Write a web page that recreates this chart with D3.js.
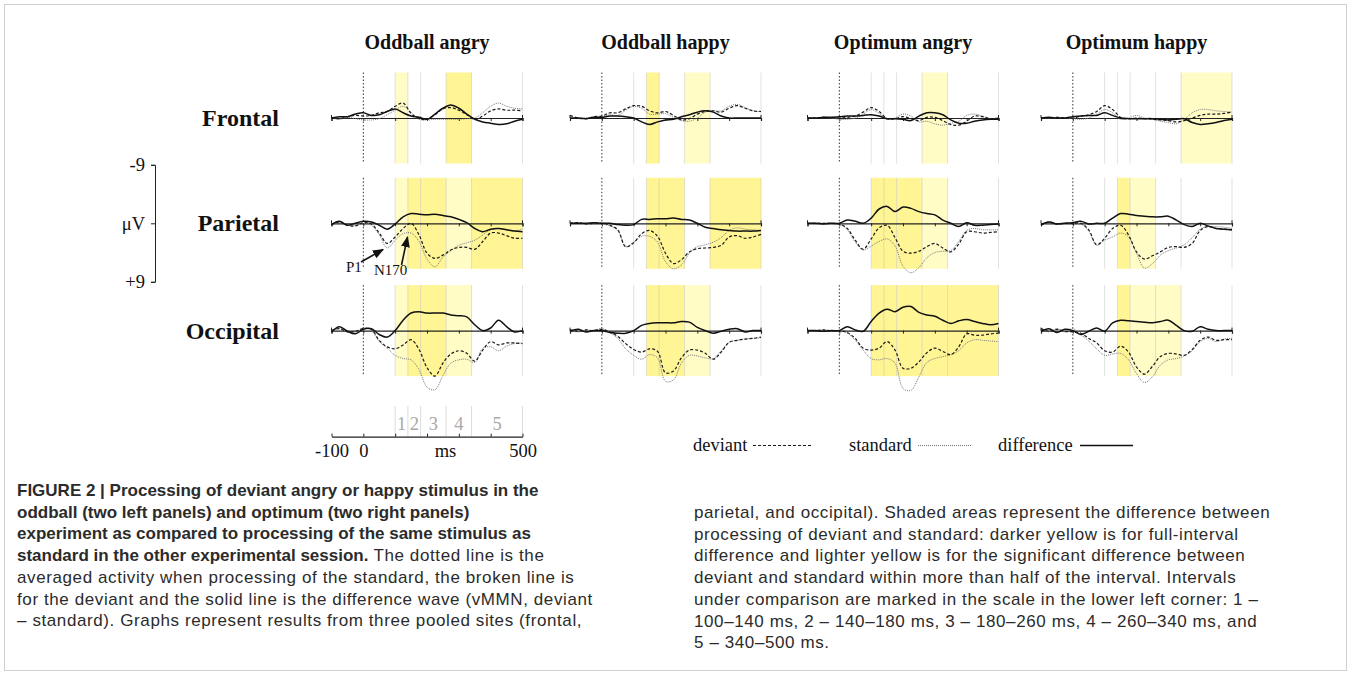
<!DOCTYPE html>
<html>
<head>
<meta charset="utf-8">
<script src="https://cdn.jsdelivr.net/npm/d3@7"></script>
<style>
  html, body { margin: 0; padding: 0; background: #ffffff; }
  svg { display: block; }
</style>
</head>
<body>
<svg id="fig" width="1351" height="675"></svg>
<script>
// ---------------------------------------------------------------
// Sample times (ms) shared by every waveform
const timeMs = [-100, -75, -50, -25, 0, 25, 50, 75, 100, 125, 150, 175, 200,
                225, 250, 275, 300, 325, 350, 375, 400, 425, 450, 475, 500];

// Panel titles and pooled-site rows
const panelTitles = ["Oddball angry", "Oddball happy", "Optimum angry", "Optimum happy"];
const siteLabels = ["Frontal", "Parietal", "Occipital"];

// Comparison intervals (ms) and their labels
const intervalEdges = [100, 140, 180, 260, 340, 500];
const intervalLabels = ["1", "2", "3", "4", "5"];

// Scale ticks
const timeTicks = [-100, 0, 100, 200, 300, 400, 500];
const timeTickLabels = [-100, 0, 500];
const voltTicks = [-9, 0, 9];
const voltTickLabels = ["-9", "\u03bcV", "+9"];

// Significance shading per interval: "d" full interval, "l" more than half, "" none
const oaShade = [["l", "", "", "d", ""], ["l", "d", "d", "l", "d"], ["l", "d", "d", "l", ""]];
const ohShade = [["", "d", "", "l", ""], ["", "d", "d", "", "d"], ["", "d", "d", "l", ""]];
const optAShade = [["", "", "", "l", ""], ["d", "d", "d", "l", ""], ["d", "d", "d", "d", "d"]];
const optHShade = [["", "", "", "", "l"], ["", "d", "l", "", ""], ["", "d", "l", "l", ""]];

// Oddball angry (μV; negative plotted upward)
const oaFrontalDev = [0, 0.1, -0.2, -0.4, -0.3, -0.4, -0.8, -1.0, -1.8, -2.3, -0.7, 0.1, 0.2, -0.5, -1.4, -1.6, -1.2, -0.5, 0.2, -0.3, -1.1, -1.4, -1.2, -1.2, -1.1];
const oaFrontalStd = [0, 0.2, -0.1, 0.1, 0.3, 0.3, 0.1, -0.5, -1.2, -1.8, -0.9, 0.2, 0.3, 0.2, 0.2, 0.2, 0.2, 0.1, 0.0, -0.8, -1.8, -2.3, -1.8, -1.5, -1.4];
const oaFrontalDiff = [0, -0.2, -0.2, -0.6, -0.8, -0.4, -0.5, -1.0, -1.4, -0.8, -0.3, -0.1, 0.2, -0.6, -1.5, -2.0, -1.5, -0.6, 0.2, 0.6, 0.8, 1.0, 0.9, 0.5, 0.2];
const oaParietalDev = [0.2, -0.2, 0.3, 0.4, -0.1, 0.1, 1.5, 3.1, 2.1, 0.8, 0.0, 1.8, 4.6, 5.4, 4.9, 4.1, 3.7, 3.7, 4.0, 2.8, 1.5, 1.5, 1.9, 2.3, 2.3];
const oaParietalStd = [0.1, -0.2, 0.3, 0.3, 0.0, 0.3, 1.8, 3.8, 2.6, 1.6, 1.5, 2.8, 5.5, 6.7, 5.2, 4.2, 3.4, 3.0, 2.6, 1.8, 1.0, 0.8, 1.0, 1.2, 0.9];
const oaParietalDiff = [0.2, -0.3, 0.3, 0.0, -0.3, -0.2, 0.3, 0.9, 0.1, -1.0, -1.5, -1.4, -1.3, -1.4, -1.2, -1.0, -0.6, -0.1, 0.8, 1.3, 0.9, 0.8, 1.0, 1.2, 1.3];
const oaOccipitalDev = [0.0, -0.3, 0.2, 0.1, -0.3, -0.2, 1.5, 2.5, 2.8, 2.2, 1.4, 2.9, 5.7, 7.0, 5.0, 3.6, 3.1, 3.5, 4.7, 3.0, 1.7, 2.2, 1.9, 1.9, 2.0];
const oaOccipitalStd = [0.0, -0.3, 0.1, 0.2, -0.4, 0.0, 1.7, 2.7, 3.8, 4.3, 4.5, 6.0, 8.7, 9.1, 6.9, 5.0, 4.5, 4.4, 4.9, 2.7, 2.5, 3.1, 2.4, 2.0, 1.9];
const oaOccipitalDiff = [0.2, -0.6, 0.1, 0.5, -0.2, -0.3, 0.6, 1.0, 0.0, -1.6, -2.7, -2.9, -2.7, -2.7, -2.7, -2.4, -2.3, -2.1, -0.9, 0.0, -0.4, -1.6, -0.6, 0.2, 0.0];

// Oddball happy
const ohFrontalDev = [-0.4, 0.0, 0.1, -0.2, -0.3, -0.8, -0.8, -1.4, -1.9, -1.8, -1.1, -0.8, -1.0, -0.4, 0.3, 0.1, -0.6, -1.0, -1.1, -0.9, -1.5, -1.9, -1.5, -1.1, -1.0];
const ohFrontalStd = [0.0, 0.1, 0.0, -0.1, -0.2, -0.5, -0.4, -1.2, -1.8, -1.5, -0.6, -0.6, -0.7, -0.1, 0.4, 0.5, 0.0, -0.9, -1.1, -1.1, -1.8, -2.1, -1.6, -1.1, -1.0];
const ohFrontalDiff = [0.0, 0.0, 0.1, -0.1, -0.1, -0.3, -0.3, -0.2, 0.0, 0.6, 1.0, 0.6, 0.3, 0.2, -0.2, -0.5, -0.9, -1.1, -0.9, -0.3, 0.0, 0.0, 0.0, 0.0, 0.0];
const ohParietalDev = [0.0, -0.1, 0.1, 0.0, 0.0, 0.3, 1.0, 3.6, 3.0, 1.6, 1.1, 2.0, 4.6, 6.2, 5.6, 4.4, 3.9, 3.8, 3.7, 3.4, 2.1, 1.9, 2.3, 2.1, 1.7];
const ohParietalStd = [0.0, -0.1, 0.1, 0.0, 0.1, 0.4, 1.1, 3.6, 2.9, 2.0, 2.0, 2.9, 5.9, 7.0, 6.4, 4.6, 3.6, 3.3, 2.9, 2.2, 1.1, 0.7, 0.9, 1.0, 1.1];
const ohParietalDiff = [0.0, 0.0, 0.0, -0.1, 0.0, 0.0, 0.2, 0.3, 0.2, -0.6, -0.6, -0.7, -0.7, -0.8, -0.6, -0.5, 0.0, 0.6, 0.8, 1.0, 1.1, 1.2, 1.2, 1.2, 1.1];
const ohOccipitalDev = [-0.1, 0.1, -0.1, 0.0, -0.2, 0.2, 0.9, 2.0, 2.9, 3.3, 2.8, 3.2, 6.5, 6.2, 4.2, 3.0, 3.0, 3.5, 4.4, 3.3, 1.8, 1.5, 1.3, 1.2, 1.0];
const ohOccipitalStd = [-0.2, 0.2, -0.1, 0.0, -0.3, 0.3, 1.2, 2.8, 3.8, 4.4, 3.7, 4.2, 7.8, 7.6, 5.0, 3.8, 3.9, 4.2, 4.3, 3.1, 1.8, 1.5, 1.3, 1.2, 1.1];
const ohOccipitalDiff = [0.1, -0.2, 0.2, 0.0, 0.0, 0.3, 0.4, 0.4, 0.0, -0.8, -1.1, -1.2, -1.2, -1.2, -1.4, -1.3, -0.5, 0.0, 0.4, 0.1, -0.2, -0.3, 0.2, 0.0, 0.0];

// Optimum angry
const optAFrontalDev = [0.0, 0.0, -0.1, -0.1, 0.0, -0.1, -0.3, -0.9, -1.6, -1.0, 0.1, 0.1, -0.2, 0.1, 0.4, -0.1, -0.1, 0.4, 1.0, 1.1, 0.5, -0.3, -0.2, 0.1, 0.0];
const optAFrontalStd = [0.0, 0.0, -0.1, 0.0, 0.2, 0.2, 0.0, -0.6, -1.3, -0.7, 0.2, 0.0, -0.6, -0.3, 0.6, 0.5, 0.9, 1.1, 0.8, 0.5, -0.4, -0.6, -0.3, 0.1, 0.0];
const optAFrontalDiff = [0.0, 0.0, -0.1, -0.1, -0.2, -0.3, -0.3, -0.4, -0.5, -0.3, 0.1, 0.1, 0.2, 0.4, -0.3, -0.8, -0.8, -0.5, 0.3, 0.8, 0.8, 0.5, 0.3, 0.2, 0.2];
const optAParietalDev = [0.0, 0.0, 0.0, 0.0, 0.1, 0.8, 2.6, 4.0, 2.4, 0.7, 0.3, 2.2, 4.3, 4.6, 4.3, 3.6, 3.1, 3.8, 4.4, 3.2, 1.3, 1.3, 1.5, 1.4, 1.3];
const optAParietalStd = [0.0, 0.0, 0.0, 0.0, 0.1, 1.0, 2.9, 4.1, 3.5, 2.8, 2.4, 3.5, 6.6, 7.6, 6.8, 5.3, 4.5, 4.3, 4.2, 2.8, 1.1, 0.8, 1.0, 1.0, 1.0];
const optAParietalDiff = [0.0, 0.0, 0.1, 0.0, 0.0, -0.5, -0.3, 0.0, -0.8, -2.2, -2.6, -1.8, -2.5, -2.3, -1.8, -1.5, -1.3, -0.5, 0.0, 0.5, -0.1, 0.3, 0.3, 0.2, 0.1];
const optAOccipitalDev = [0.0, 0.0, -0.1, 0.0, 0.0, 0.3, 1.2, 2.7, 3.0, 2.7, 1.7, 3.0, 5.8, 5.8, 4.8, 3.4, 2.7, 3.2, 3.7, 2.5, 0.5, 0.7, 0.7, 0.5, 0.4];
const optAOccipitalStd = [0.0, 0.0, -0.1, 0.0, 0.0, 0.4, 1.5, 3.0, 4.3, 4.5, 4.3, 5.0, 8.9, 9.2, 7.1, 4.9, 4.3, 4.0, 3.7, 3.1, 1.9, 1.4, 1.5, 1.6, 1.7];
const optAOccipitalDiff = [0.0, 0.0, 0.1, 0.0, 0.0, -0.6, -0.1, 0.1, -1.4, -2.7, -3.3, -2.9, -3.6, -3.7, -2.8, -2.4, -2.2, -1.6, -1.1, -1.5, -1.7, -1.4, -1.1, -0.9, -1.1];

// Optimum happy
const optHFrontalDev = [0.0, 0.0, -0.1, 0.0, 0.0, -0.3, -0.5, -1.0, -1.9, -1.3, -0.1, 0.1, 0.0, 0.1, 0.2, 0.3, 0.4, 0.6, 0.4, 0.0, -0.4, -0.6, -0.6, -0.7, -0.9];
const optHFrontalStd = [0.0, 0.0, 0.0, 0.0, 0.1, 0.2, 0.0, -0.6, -1.3, -0.8, 0.2, 0.0, -0.4, 0.0, 0.2, 0.5, 0.7, 0.9, 0.2, -0.8, -1.3, -1.3, -1.1, -1.0, -0.9];
const optHFrontalDiff = [0.0, -0.1, 0.0, 0.0, -0.2, -0.3, -0.4, -0.4, -0.8, -0.4, 0.0, 0.1, 0.1, 0.1, 0.1, 0.2, 0.3, 0.2, 0.1, 0.7, 1.0, 0.9, 0.7, 0.4, 0.2];
const optHParietalDev = [0.3, -0.2, 0.1, 0.0, 0.0, 0.0, 1.0, 3.3, 2.3, 0.8, 0.3, 1.8, 4.4, 5.5, 5.0, 4.4, 3.7, 3.6, 3.7, 3.1, 1.1, 0.5, 0.8, 0.9, 1.0];
const optHParietalStd = [0.3, -0.2, 0.1, 0.0, 0.1, 0.1, 1.2, 3.4, 2.6, 2.1, 1.5, 2.1, 4.6, 6.9, 6.2, 4.9, 4.2, 3.8, 3.3, 2.2, 0.9, 0.5, 0.5, 0.6, 0.8];
const optHParietalDiff = [0.2, -0.2, 0.1, 0.0, -0.1, -0.3, 0.1, 0.0, 0.0, -0.8, -1.5, -1.4, -1.2, -1.1, -1.0, -1.0, -1.1, -0.5, 0.2, 0.5, 0.0, 0.4, 0.8, 0.9, 1.0];
const optHOccipitalDev = [-0.3, 0.1, -0.2, 0.1, 0.2, 0.4, 1.2, 1.9, 3.1, 3.3, 2.4, 3.3, 5.6, 6.7, 5.5, 4.0, 3.5, 3.6, 3.8, 2.9, 1.5, 1.0, 1.5, 1.4, 1.4];
const optHOccipitalStd = [-0.4, 0.2, -0.3, 0.2, -0.3, 0.6, 1.6, 2.8, 3.8, 3.6, 3.5, 4.5, 6.6, 8.0, 7.1, 5.3, 4.5, 4.3, 3.9, 3.1, 1.7, 1.2, 1.7, 1.3, 1.2];
const optHOccipitalDiff = [0.1, -0.3, 0.3, -0.2, 0.0, 0.6, 0.1, -0.4, 0.1, -1.2, -1.6, -1.5, -1.4, -1.3, -1.2, -1.4, -1.6, -0.8, 0.0, 0.1, -0.6, -0.2, 0.0, 0.0, 0.0];

// Caption text, line by line, as [text, bold] runs
const captionLeft = [
  [["FIGURE 2 | Processing of deviant angry or happy stimulus in the", true]],
  [["oddball (two left panels) and optimum (two right panels)", true]],
  [["experiment as compared to processing of the same stimulus as", true]],
  [["standard in the other experimental session.", true], [" The dotted line is the", false]],
  [["averaged activity when processing of the standard, the broken line is", false]],
  [["for the deviant and the solid line is the difference wave (vMMN, deviant", false]],
  [["\u2013 standard). Graphs represent results from three pooled sites (frontal,", false]]
];
const captionRight = [
  [["parietal, and occipital). Shaded areas represent the difference between", false]],
  [["processing of deviant and standard: darker yellow is for full-interval", false]],
  [["difference and lighter yellow is for the significant difference between", false]],
  [["deviant and standard within more than half of the interval. Intervals", false]],
  [["under comparison are marked in the scale in the lower left corner: 1 \u2013", false]],
  [["100\u2013140 ms, 2 \u2013 140\u2013180 ms, 3 \u2013 180\u2013260 ms, 4 \u2013 260\u2013340 ms, and", false]],
  [["5 \u2013 340\u2013500 ms.", false]]
];

// ---------------------------------------------------------------
const panels = [
  { title: panelTitles[0], shade: oaShade,
    rows: [[oaFrontalDev, oaFrontalStd, oaFrontalDiff], [oaParietalDev, oaParietalStd, oaParietalDiff], [oaOccipitalDev, oaOccipitalStd, oaOccipitalDiff]] },
  { title: panelTitles[1], shade: ohShade,
    rows: [[ohFrontalDev, ohFrontalStd, ohFrontalDiff], [ohParietalDev, ohParietalStd, ohParietalDiff], [ohOccipitalDev, ohOccipitalStd, ohOccipitalDiff]] },
  { title: panelTitles[2], shade: optAShade,
    rows: [[optAFrontalDev, optAFrontalStd, optAFrontalDiff], [optAParietalDev, optAParietalStd, optAParietalDiff], [optAOccipitalDev, optAOccipitalStd, optAOccipitalDiff]] },
  { title: panelTitles[3], shade: optHShade,
    rows: [[optHFrontalDev, optHFrontalStd, optHFrontalDiff], [optHParietalDev, optHParietalStd, optHParietalDiff], [optHOccipitalDev, optHOccipitalStd, optHOccipitalDiff]] }
];

// Layout
const panelX0 = [331.5, 570, 807.5, 1041];
const panelW = 191;
const rowBase = [118, 223.3, 330.6];
const pxPerUV = 6.5;
const shadeUV = 7;
const serif = "'Liberation Serif', 'Times New Roman', Times, serif";
const sans = "'Liberation Sans', Arial, Helvetica, sans-serif";
const colDark = "#fff594";
const colLight = "#fffcc6";

// Line styles for deviant, standard, difference
const seriesStyle = [
  { stroke: "#1a1a1a", width: 1.2, dash: "3,2" },
  { stroke: "#7a7a7a", width: 1.0, dash: "1,1" },
  { stroke: "#111111", width: 1.5, dash: null }
];

const svg = d3.select("#fig");

// Figure frame
svg.append("rect")
  .attr("x", 4.5).attr("y", 4.5).attr("width", 1342).attr("height", 666)
  .attr("fill", "none").attr("stroke", "#d0d0d0").attr("stroke-width", 1);

const yScaleFor = base => d3.scaleLinear().domain([-9, 9]).range([base - 9 * pxPerUV, base + 9 * pxPerUV]);

panels.forEach((p, pi) => {
  const x = d3.scaleLinear().domain([-100, 500]).range([panelX0[pi], panelX0[pi] + panelW]);
  const g = svg.append("g");

  g.append("text")
    .attr("x", x(200)).attr("y", 49)
    .attr("text-anchor", "middle")
    .attr("font-family", serif).attr("font-size", 20).attr("font-weight", "bold")
    .attr("fill", "#111")
    .text(p.title);

  p.rows.forEach((series, ri) => {
    const y = yScaleFor(rowBase[ri]);
    const rg = g.append("g");

    // significance shading
    p.shade[ri].forEach((code, k) => {
      if (!code) return;
      rg.append("rect")
        .attr("x", x(intervalEdges[k])).attr("width", x(intervalEdges[k + 1]) - x(intervalEdges[k]))
        .attr("y", y(-shadeUV)).attr("height", y(shadeUV) - y(-shadeUV))
        .attr("fill", code === "d" ? colDark : colLight);
    });

    // interval boundaries
    rg.selectAll("line.edge").data(intervalEdges).join("line")
      .attr("class", "edge")
      .attr("x1", d => x(d)).attr("x2", d => x(d))
      .attr("y1", y(-shadeUV)).attr("y2", y(shadeUV))
      .attr("stroke", "#bdbdbd").attr("stroke-opacity", 0.45).attr("stroke-width", 1);

    // stimulus onset
    rg.append("line")
      .attr("x1", x(0)).attr("x2", x(0))
      .attr("y1", y(-shadeUV)).attr("y2", y(shadeUV))
      .attr("stroke", "#333").attr("stroke-width", 1).attr("stroke-dasharray", "1.5,2");

    // time axis at 0 μV
    const ax = rg.append("g").attr("transform", `translate(0,${y(0)})`)
      .call(d3.axisBottom(x).tickValues(timeTicks).tickSizeInner(3).tickSizeOuter(3).tickFormat(""));
    ax.select(".domain").attr("stroke", "#222").attr("stroke-width", 1.2);
    ax.selectAll(".tick line").attr("stroke", "#222").attr("stroke-width", 1);
    rg.selectAll("line.endtick").data([-100, 500]).join("line")
      .attr("class", "endtick")
      .attr("x1", d => x(d)).attr("x2", d => x(d))
      .attr("y1", y(0) - 3).attr("y2", y(0))
      .attr("stroke", "#222").attr("stroke-width", 1);

    // waveforms: standard under deviant under difference
    const lineGen = d3.line()
      .x((d, i) => x(timeMs[i]))
      .y(d => y(d))
      .curve(d3.curveCatmullRom.alpha(0.5));
    [1, 0, 2].forEach(si => {
      const st = seriesStyle[si];
      rg.append("path")
        .attr("d", lineGen(series[si]))
        .attr("fill", "none")
        .attr("stroke", st.stroke)
        .attr("stroke-width", st.width)
        .attr("stroke-dasharray", st.dash);
    });
  });
});

// Row labels
siteLabels.forEach((lab, ri) => {
  svg.append("text")
    .attr("x", 279).attr("y", rowBase[ri] + 8)
    .attr("text-anchor", "end")
    .attr("font-family", serif).attr("font-size", 24).attr("font-weight", "bold")
    .attr("fill", "#111")
    .text(lab);
});

// Voltage scale bracket
{
  const y = yScaleFor(rowBase[1]);
  const vg = svg.append("g").attr("transform", "translate(155,0)")
    .call(d3.axisLeft(y).tickValues(voltTicks).tickSizeInner(4).tickSizeOuter(4).tickPadding(6)
      .tickFormat((d, i) => voltTickLabels[i]));
  vg.select(".domain").attr("stroke", "#222").attr("stroke-width", 1);
  vg.selectAll(".tick line").attr("stroke", "#222");
  vg.selectAll(".tick text").attr("font-family", serif).attr("font-size", 18.5).attr("fill", "#111");
}

// Time scale with comparison intervals
{
  const x = d3.scaleLinear().domain([-100, 500]).range([panelX0[0], panelX0[0] + panelW]);
  const axisY = 436.7;
  const sg = svg.append("g");
  sg.selectAll("line.iv").data(intervalEdges).join("line")
    .attr("class", "iv")
    .attr("x1", d => x(d)).attr("x2", d => x(d))
    .attr("y1", 406).attr("y2", axisY)
    .attr("stroke", "#dcdcdc").attr("stroke-width", 1);
  sg.selectAll("text.iv").data(intervalLabels).join("text")
    .attr("class", "iv")
    .attr("x", (d, i) => (x(intervalEdges[i]) + x(intervalEdges[i + 1])) / 2)
    .attr("y", 430)
    .attr("text-anchor", "middle")
    .attr("font-family", serif).attr("font-size", 18.5).attr("fill", "#a8a8a8")
    .text(d => d);
  const ax = sg.append("g").attr("transform", `translate(0,${axisY})`)
    .call(d3.axisBottom(x).tickValues(timeTicks).tickSizeInner(-3).tickSizeOuter(0).tickPadding(7)
      .tickFormat(d => timeTickLabels.includes(d) ? String(d) : ""));
  ax.select(".domain").attr("stroke", "#222").attr("stroke-width", 1.2);
  ax.selectAll(".tick line").attr("stroke", "#222");
  ax.selectAll(".tick text").attr("font-family", serif).attr("font-size", 18.5).attr("fill", "#111");
  sg.append("text")
    .attr("x", x(258)).attr("y", 457)
    .attr("text-anchor", "middle")
    .attr("font-family", serif).attr("font-size", 18.5).attr("fill", "#111")
    .text("ms");
}

// P1 / N170 annotations
{
  const defs = svg.append("defs");
  defs.append("marker")
    .attr("id", "arrowHead").attr("viewBox", "0 0 10 10")
    .attr("refX", 9).attr("refY", 5)
    .attr("markerWidth", 7).attr("markerHeight", 7)
    .attr("orient", "auto-start-reverse")
    .append("path").attr("d", "M0,1 L10,5 L0,9 Z").attr("fill", "#111");
  const ag = svg.append("g");
  ag.append("line").attr("x1", 361).attr("y1", 262).attr("x2", 383).attr("y2", 249.5)
    .attr("stroke", "#111").attr("stroke-width", 1.6).attr("marker-end", "url(#arrowHead)");
  ag.append("line").attr("x1", 401.5).attr("y1", 265).attr("x2", 407.5).attr("y2", 237)
    .attr("stroke", "#111").attr("stroke-width", 1.6).attr("marker-end", "url(#arrowHead)");
  ag.append("text").attr("x", 346).attr("y", 272)
    .attr("font-family", serif).attr("font-size", 15).attr("fill", "#111").text("P1");
  ag.append("text").attr("x", 374).attr("y", 275)
    .attr("font-family", serif).attr("font-size", 15).attr("fill", "#111").text("N170");
}

// Legend
{
  const legendItems = [
    { label: "deviant", x: 693, x1: 753, x2: 813, style: seriesStyle[0] },
    { label: "standard", x: 849, x1: 918, x2: 971, style: seriesStyle[1] },
    { label: "difference", x: 998, x1: 1080, x2: 1133, style: seriesStyle[2] }
  ];
  const lg = svg.append("g");
  legendItems.forEach(it => {
    lg.append("text").attr("x", it.x).attr("y", 451)
      .attr("font-family", serif).attr("font-size", 18.5).attr("fill", "#111").text(it.label);
    lg.append("line").attr("x1", it.x1).attr("x2", it.x2).attr("y1", 445.5).attr("y2", 445.5)
      .attr("stroke", it.style.stroke).attr("stroke-width", it.style.dash ? 1 : 1.3)
      .attr("stroke-dasharray", it.style.dash);
  });
}

// Caption, two ragged-right columns
function drawCaption(lines, x0, y0) {
  const lineH = 21.7;
  lines.forEach((runs, li) => {
    const t = svg.append("text")
      .attr("x", x0).attr("y", y0 + li * lineH)
      .attr("font-family", sans).attr("font-size", 17).attr("fill", "#2b2b2b");
    runs.forEach(([txt, bold]) => {
      t.append("tspan")
        .attr("font-weight", bold ? "bold" : "normal")
        .attr("letter-spacing", bold ? 0 : 0.6)
        .text(txt);
    });
  });
}
drawCaption(captionLeft, 17, 496);
drawCaption(captionRight, 694, 518);
</script>
</body>
</html>
